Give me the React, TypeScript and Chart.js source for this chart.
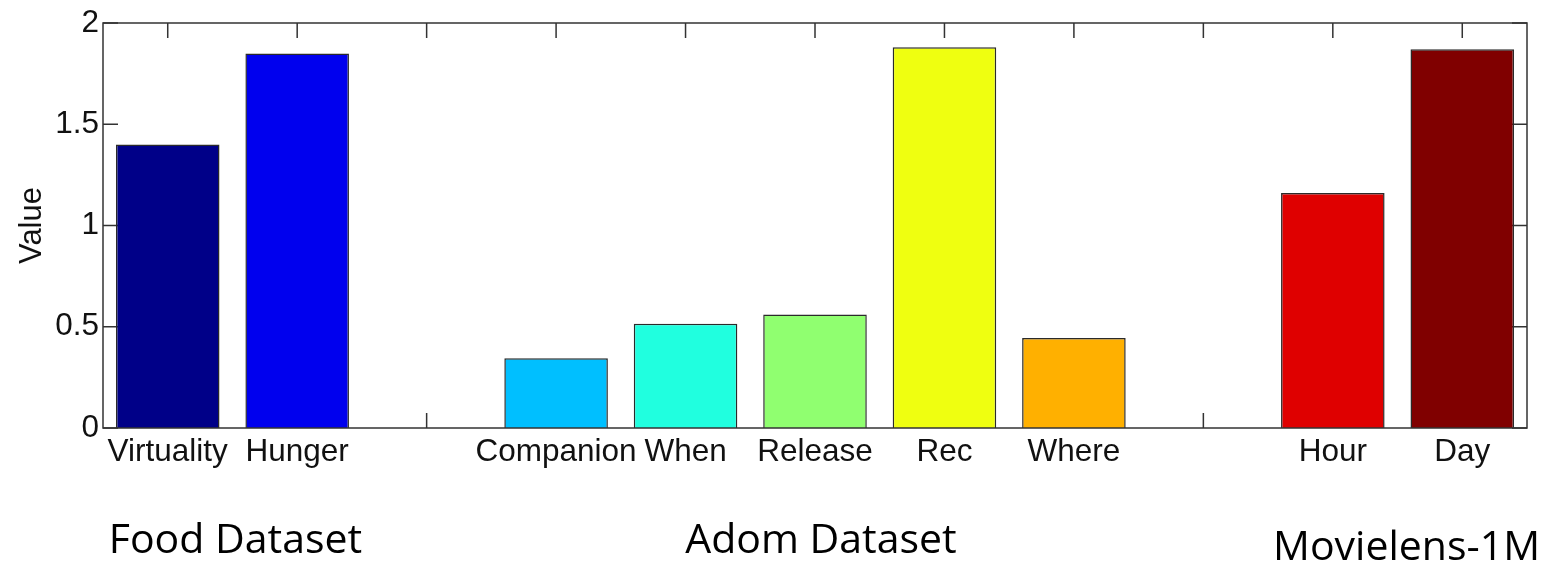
import React, { useEffect, useRef } from 'react';
import { Chart, registerables } from 'chart.js';

Chart.register(...registerables);

const categories = ['Virtuality', 'Hunger', '', 'Companion', 'When', 'Release', 'Rec', 'Where', '', 'Hour', 'Day'];
const values = [1.40, 1.85, null, 0.345, 0.515, 0.56, 1.88, 0.445, null, 1.16, 1.87];
const barColors = ['#000088', '#0000EE', 'rgba(0,0,0,0)', '#00BFFF', '#20FFDF', '#90FF70', '#EFFF10', '#FFB000', 'rgba(0,0,0,0)', '#DF0000', '#800000'];
const yTicks = [0, 0.5, 1, 1.5, 2];
const yTitle = 'Value';
const groupLabels = ['Food Dataset', 'Adom Dataset', 'Movielens-1M'];
const groupCenters = [0.5, 5, 9.5];

const AX_FONT = '"Liberation Sans", Arial, sans-serif';

const framePlugin = {
  id: 'matlabFrame',
  beforeDatasetsDraw(chart: any) {
    const { ctx, chartArea: a, scales } = chart;
    const x = scales.x;
    const y = scales.y;
    ctx.save();
    ctx.strokeStyle = '#333';
    ctx.lineWidth = 1.5;
    ctx.beginPath();
    categories.forEach((_, i) => {
      const px = x.getPixelForValue(i);
      ctx.moveTo(px, a.bottom);
      ctx.lineTo(px, a.bottom - 15);
      ctx.moveTo(px, a.top);
      ctx.lineTo(px, a.top + 15);
    });
    yTicks.forEach((v) => {
      const py = y.getPixelForValue(v);
      ctx.moveTo(a.left, py);
      ctx.lineTo(a.left + 15, py);
      ctx.moveTo(a.right, py);
      ctx.lineTo(a.right - 15, py);
    });
    ctx.stroke();
    ctx.restore();
  },
  afterDraw(chart: any) {
    const { ctx, chartArea: a, scales } = chart;
    ctx.save();
    ctx.strokeStyle = '#333';
    ctx.lineWidth = 1.5;
    ctx.strokeRect(a.left, a.top, a.right - a.left, a.bottom - a.top);

    // y title
    ctx.fillStyle = '#111';
    ctx.font = `31px ${AX_FONT}`;
    ctx.translate(41, (a.top + a.bottom) / 2);
    ctx.rotate(-Math.PI / 2);
    ctx.textAlign = 'center';
    ctx.textBaseline = 'alphabetic';
    ctx.fillText(yTitle, 0, 0);
    ctx.setTransform(1, 0, 0, 1, 0, 0);

    // group labels
    ctx.fillStyle = '#000';
    ctx.font = '41px "Open Sans", Lato, sans-serif';
    ctx.textAlign = 'center';
    const dx = [3, 6, 9];
    const base = [553, 553, 560];
    groupLabels.forEach((t, i) => {
      const px = scales.x.getPixelForValue(groupCenters[i]) + dx[i];
      ctx.fillText(t, px, base[i]);
    });
    ctx.restore();
  },
};

export default function App() {
  const ref = useRef<HTMLCanvasElement | null>(null);
  useEffect(() => {
    if (!ref.current) return;
    const chart = new Chart(ref.current, {
      type: 'bar',
      data: {
        labels: categories,
        datasets: [
          {
            data: values as any,
            backgroundColor: barColors,
            borderColor: '#2a2a2a',
            borderWidth: 1.5,
            barPercentage: 0.8,
            categoryPercentage: 1,
          },
        ],
      },
      options: {
        animation: false,
        responsive: false,
        devicePixelRatio: 1,
        layout: { padding: { top: 23, right: 22, left: 0, bottom: 0 } },
        plugins: { legend: { display: false }, tooltip: { enabled: false }, title: { display: false } },
        scales: {
          x: {
            offset: true,
            grid: { display: false, drawTicks: false },
            border: { display: false },
            ticks: {
              autoSkip: false,
              maxRotation: 0,
              minRotation: 0,
              padding: 5,
              color: '#111',
              font: { family: AX_FONT, size: 31.5 },
            },
            afterFit: (s: any) => {
              s.height = 133;
            },
          },
          y: {
            min: 0,
            max: 2,
            grid: { display: false, drawTicks: false },
            border: { display: false },
            ticks: {
              stepSize: 0.5,
              padding: 4,
              color: '#111',
              font: { family: AX_FONT, size: 31.5 },
              callback: (v: any) => String(Number(v)),
            },
            afterFit: (s: any) => {
              s.width = 103;
            },
          },
        },
      },
      plugins: [framePlugin],
    });
    return () => chart.destroy();
  }, []);
  return (
    <div style={{ position: 'absolute', left: 0, top: 0, width: 1549, height: 561, background: '#fff' }}>
      <canvas ref={ref} width={1549} height={561} />
    </div>
  );
}
